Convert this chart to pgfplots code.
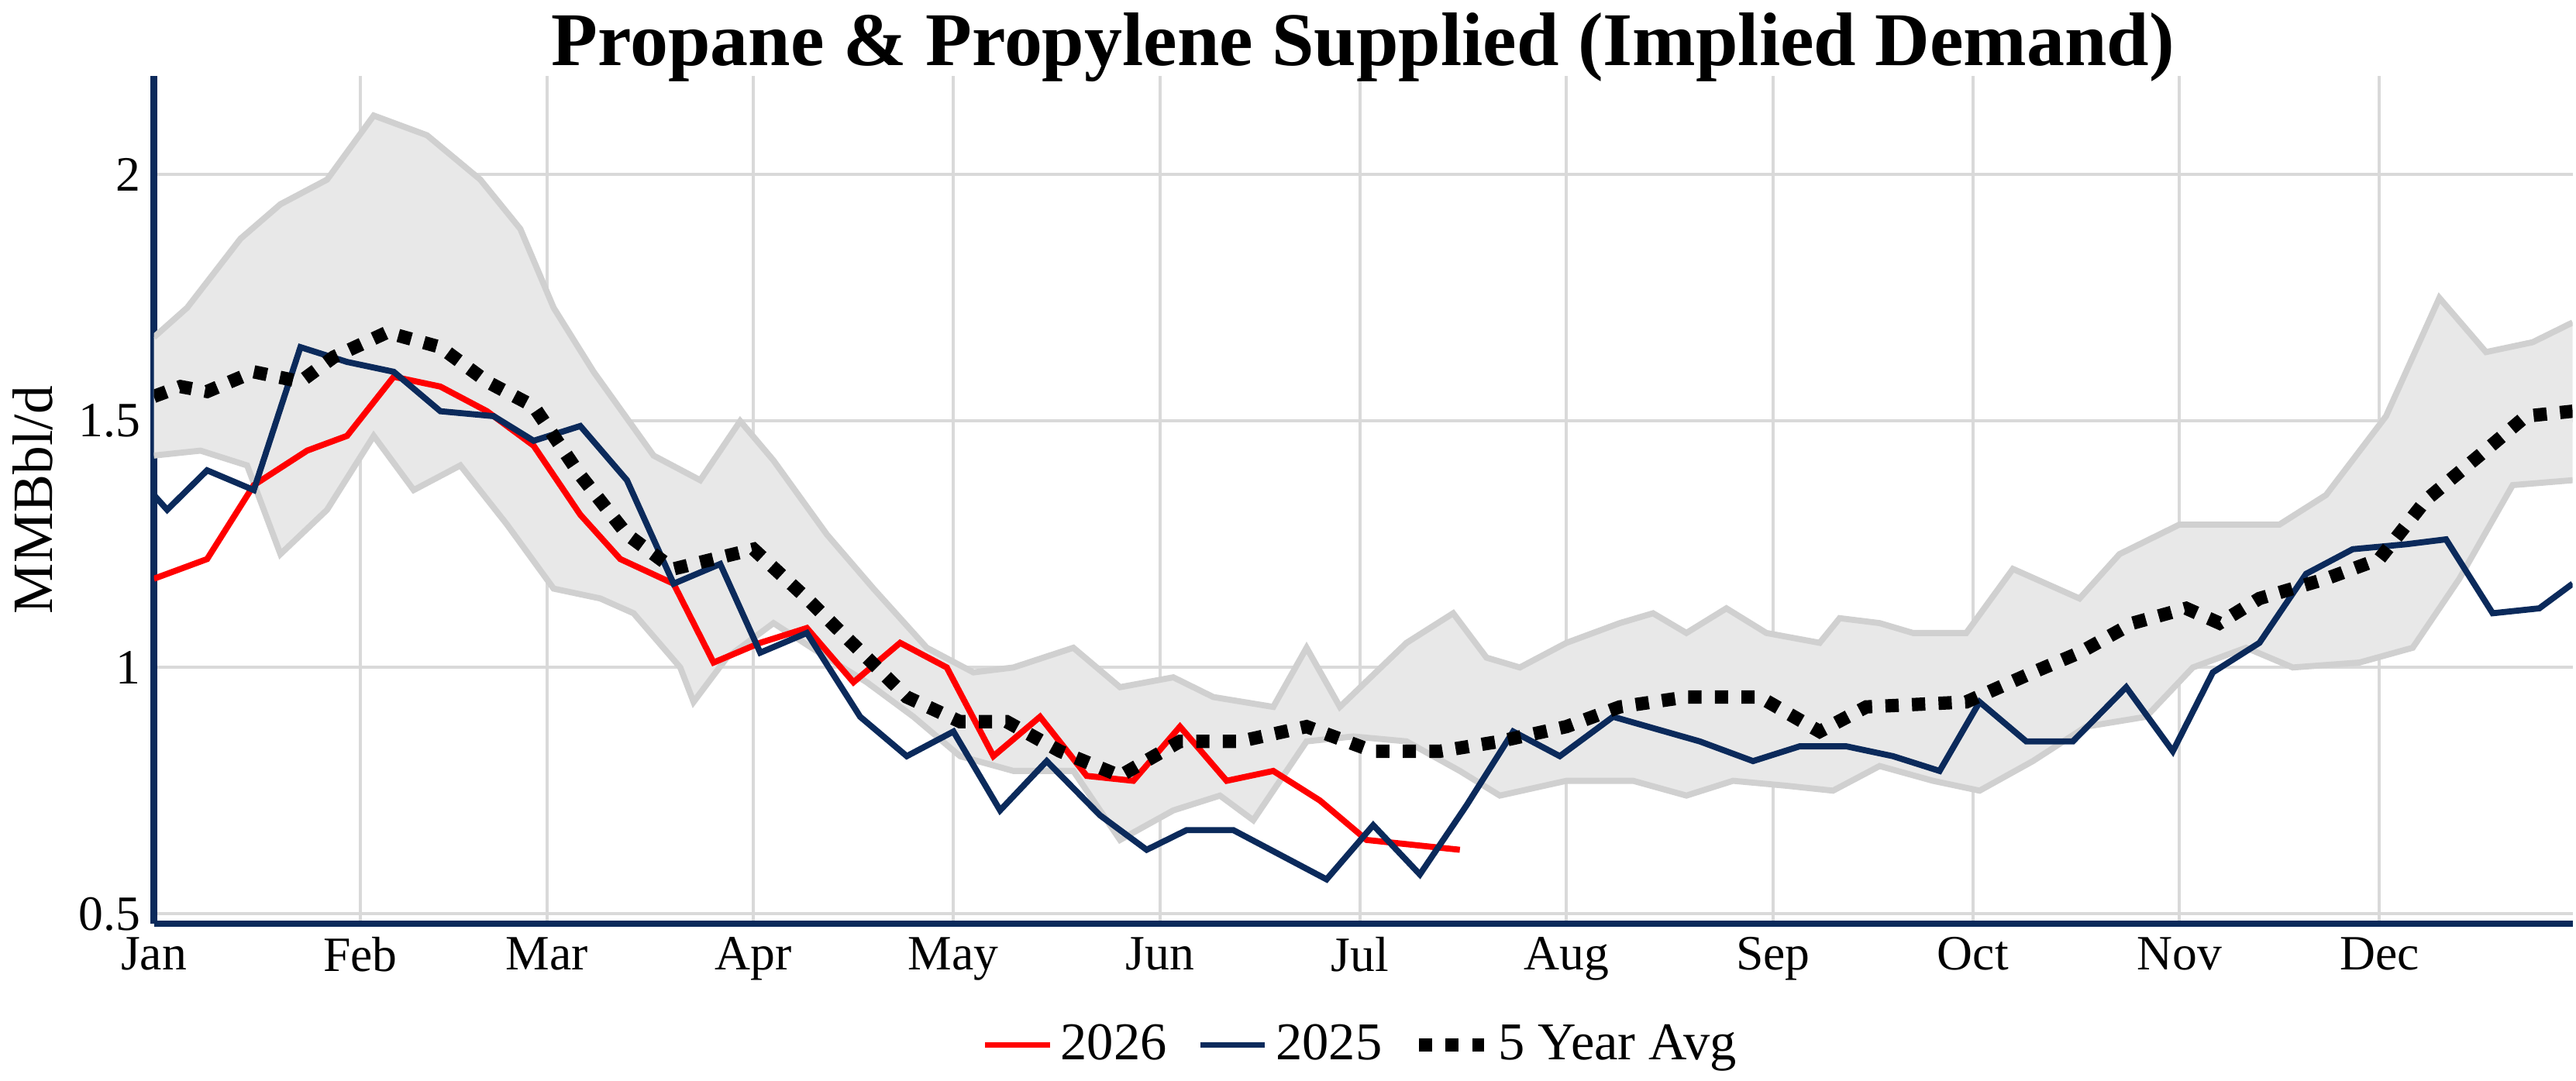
\documentclass[border=0pt]{standalone}
\usepackage{pgfplots}
\pgfplotsset{compat=1.18}
\usepgfplotslibrary{fillbetween}
\usepackage{fontspec}
\setmainfont{Liberation Serif}
\definecolor{navy}{HTML}{0B2A5B}
\definecolor{band}{HTML}{E8E8E8}
\definecolor{bandline}{HTML}{D0D0D0}
\begin{document}
\begin{tikzpicture}
\begin{axis}[
  scale only axis, width=22.4cm, height=7.85cm,
  xmin=0, xmax=363, ymin=0.48, ymax=2.2,
  xtick={0,31,59,90,120,151,181,212,243,273,304,334},
  xticklabels={Jan,Feb,Mar,Apr,May,Jun,Jul,Aug,Sep,Oct,Nov,Dec},
  ytick={0.5,1,1.5,2},
  yticklabels={0.5,1,1.5,2},
  grid=major, grid style={draw=black!15, line width=0.8pt},
  axis x line*=bottom, axis y line*=left,
  x axis line style={draw=navy, line width=1.8pt, -},
  y axis line style={draw=navy, line width=1.8pt, -},
  tick style={draw=none},
  ticklabel style={font=\fontsize{13}{15}\selectfont},
  ylabel={MMBbl/d}, ylabel style={font=\fontsize{15}{17}\selectfont},
  title={\bfseries Propane \& Propylene Supplied (Implied Demand)},
  title style={font=\fontsize{20}{24}\selectfont, yshift=-11pt},
  legend style={at={(0.5,-0.1)}, anchor=north, draw=none, legend columns=3,
    font=\fontsize{14}{16}\selectfont, /tikz/every even column/.append style={column sep=6pt}},
  legend cell align=left,
  clip=true,
]
\addplot[name path=up, draw=bandline, line width=1.6pt, forget plot] coordinates {
(0,1.67)(5,1.73)(13,1.87)(19,1.94)(26,1.99)(33,2.12)(41,2.08)(49,1.99)(55,1.89)(60,1.73)(66,1.60)(75,1.43)(82,1.38)(88,1.50)(93,1.42)(101,1.27)(108,1.16)(116,1.04)(123,0.99)(129,1.00)(138,1.04)(145,0.96)(153,0.98)(159,0.94)(168,0.92)(173,1.04)(178,0.92)(188,1.05)(195,1.11)(200,1.02)(205,1.00)(212,1.05)(220,1.09)(225,1.11)(230,1.07)(236,1.12)(242,1.07)(250,1.05)(253,1.10)(259,1.09)(264,1.07)(272,1.07)(279,1.20)(289,1.14)(295,1.23)(304,1.29)(311,1.29)(319,1.29)(326,1.35)(335,1.51)(343,1.75)(350,1.64)(357,1.66)(363,1.70)};
\addplot[name path=lo, draw=bandline, line width=1.6pt, forget plot] coordinates {
(0,1.43)(7,1.44)(14,1.41)(19,1.23)(26,1.32)(33,1.47)(39,1.36)(46,1.41)(53,1.29)(60,1.16)(67,1.14)(72,1.11)(79,1.00)(81,0.93)(86,1.02)(93,1.09)(101,1.02)(107,0.97)(114,0.90)(121,0.82)(129,0.79)(138,0.79)(145,0.65)(153,0.71)(160,0.74)(165,0.69)(173,0.85)(180,0.86)(188,0.85)(196,0.79)(202,0.74)(212,0.77)(222,0.77)(230,0.74)(237,0.77)(245,0.76)(252,0.75)(259,0.80)(267,0.77)(274,0.75)(282,0.81)(290,0.88)(299,0.90)(306,1.00)(314,1.04)(321,1.00)(331,1.01)(339,1.04)(346,1.18)(354,1.37)(363,1.38)};
\addplot[band, forget plot] fill between[of=up and lo];
\addplot[red, line width=1.6pt] coordinates {
(0,1.18)(8,1.22)(15,1.37)(23,1.44)(29,1.47)(36,1.59)(43,1.57)(50,1.52)(57,1.45)(64,1.31)(70,1.22)(78,1.17)(84,1.01)(91,1.05)(98,1.08)(105,0.97)(112,1.05)(119,1.00)(126,0.82)(133,0.90)(140,0.78)(147,0.77)(154,0.88)(161,0.77)(168,0.79)(175,0.73)(182,0.65)(189,0.64)(196,0.63)};
\addlegendentry{2026}
\addplot[navy, line width=1.6pt] coordinates {
(0,1.35)(2,1.32)(8,1.40)(15,1.36)(22,1.65)(29,1.62)(36,1.60)(43,1.52)(51,1.51)(57,1.46)(64,1.49)(71,1.38)(78,1.17)(85,1.21)(91,1.03)(98,1.07)(106,0.90)(113,0.82)(120,0.87)(127,0.71)(134,0.81)(142,0.70)(149,0.63)(155,0.67)(162,0.67)(169,0.62)(176,0.57)(183,0.68)(190,0.58)(197,0.72)(204,0.87)(211,0.82)(219,0.90)(232,0.85)(240,0.81)(247,0.84)(254,0.84)(261,0.82)(268,0.79)(274,0.93)(281,0.85)(288,0.85)(296,0.96)(303,0.83)(309,0.99)(316,1.05)(323,1.19)(330,1.24)(338,1.25)(344,1.26)(351,1.11)(358,1.12)(363,1.17)};
\addlegendentry{2025}
\addplot[black, line width=3.5pt, dash pattern=on 3.5pt off 3.5pt] coordinates {
(0,1.55)(4,1.57)(8,1.56)(15,1.60)(22,1.58)(27,1.63)(35,1.68)(43,1.65)(50,1.58)(57,1.53)(64,1.39)(71,1.27)(78,1.20)(90,1.24)(98,1.14)(113,0.94)(121,0.89)(128,0.89)(136,0.83)(145,0.78)(154,0.85)(163,0.85)(173,0.88)(183,0.83)(193,0.83)(202,0.85)(212,0.88)(220,0.92)(230,0.94)(241,0.94)(250,0.87)(257,0.92)(272,0.93)(282,0.99)(289,1.03)(297,1.09)(305,1.12)(310,1.09)(316,1.14)(326,1.18)(334,1.22)(341,1.34)(349,1.43)(356,1.51)(363,1.52)};
\addlegendentry{5 Year Avg}
\end{axis}
\end{tikzpicture}
\end{document}
